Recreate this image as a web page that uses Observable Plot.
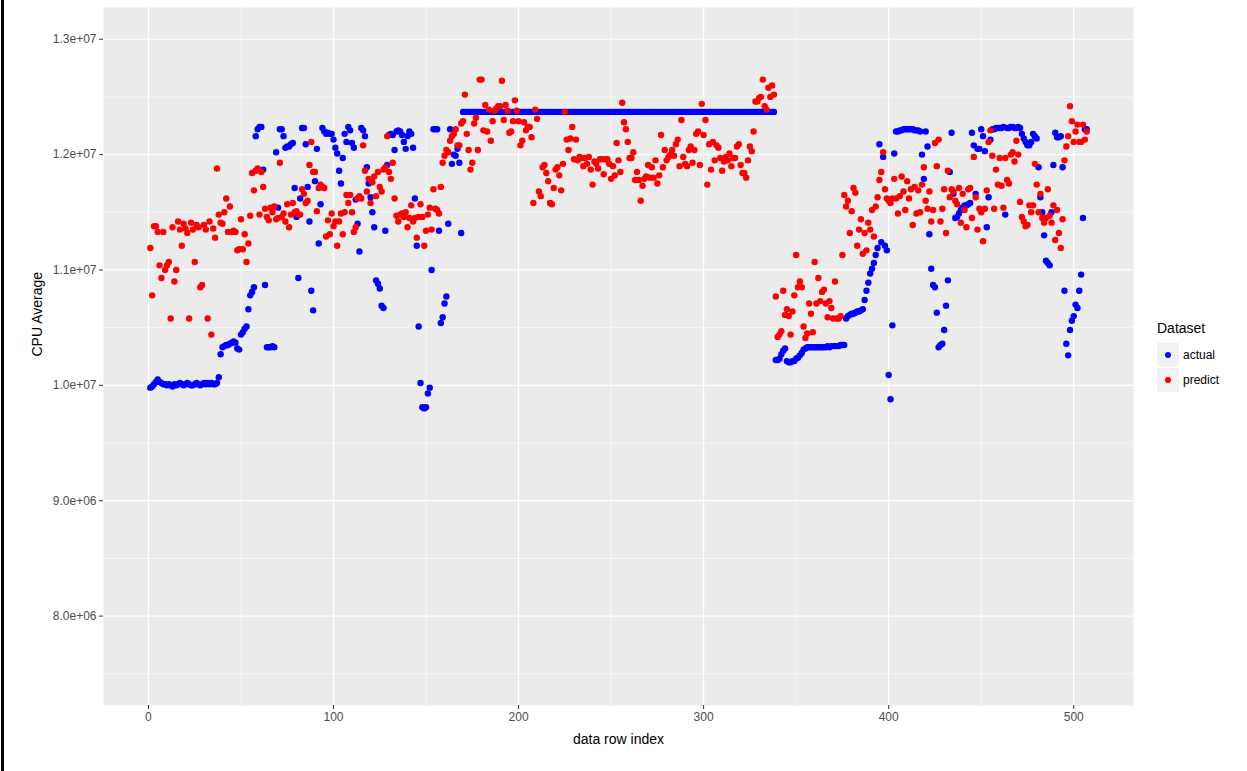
<!DOCTYPE html>
<html><head><meta charset="utf-8">
<script src="https://cdn.jsdelivr.net/npm/d3@7"></script>
<script src="https://cdn.jsdelivr.net/npm/@observablehq/plot@0.6"></script>
<style>
body{margin:0;background:#fff;font-family:"Liberation Sans",Arial,sans-serif;}
#wrap{position:relative;width:1247px;height:771px;overflow:hidden;}
#border{position:absolute;left:1px;top:0;width:3px;height:771px;background:#000;}
#legend{position:absolute;left:1157px;top:319px;color:#000;}
#legend .title{font-size:14px;height:23px;line-height:18px;}
#legend .row{display:flex;align-items:center;height:25px;}
#legend .key{width:22px;height:24px;background:#F2F2F2;position:relative;margin-right:4px;}
#legend .key span{position:absolute;left:8px;top:9px;width:6px;height:6px;border-radius:50%;}
#legend .lab{font-size:12px;}
</style>
</head><body>
<div id="wrap"><div id="chart"></div><div id="border"></div><div id="legend"></div></div>
<script>
// values in millions (CPU Average / 1e6), index = position + 1
const actual = [
9.98,9.99,10.01,10.03,10.05,10.03,10.02,10.01,10.01,10.00,
10.01,10.00,9.99,10.01,10.00,10.01,10.02,10.01,10.00,10.01,
10.02,10.01,10.00,10.00,10.01,10.02,10.01,10.00,10.01,10.02,
10.01,10.02,10.01,10.02,10.01,10.01,10.02,10.07,10.27,10.33,
10.34,10.35,10.35,10.36,10.37,10.38,10.37,10.32,10.31,10.44,
10.46,10.49,10.51,10.66,10.78,10.81,10.85,12.16,12.22,12.24,
12.24,11.87,10.87,10.33,10.33,10.33,10.34,10.33,12.02,11.54,
12.22,12.22,12.16,12.06,12.07,12.07,12.09,12.10,11.71,11.46,
10.93,11.62,12.23,12.23,12.09,11.72,11.42,10.82,10.65,11.77,
12.05,11.23,11.57,12.23,12.20,12.18,12.19,12.18,12.18,12.13,
12.06,12.01,11.86,11.75,11.97,12.18,12.11,12.24,12.21,12.10,
12.06,11.61,11.40,11.16,12.23,12.21,12.16,11.89,11.75,11.63,
11.50,11.37,10.91,10.88,10.84,10.69,10.67,11.34,11.91,12.17,
12.18,12.17,12.04,12.20,12.21,12.20,12.17,12.11,12.05,12.16,
12.20,12.18,12.06,11.62,11.21,10.51,10.02,9.81,9.80,9.81,
9.93,9.98,11.00,12.22,12.22,12.22,11.34,10.54,10.59,10.71,
10.77,11.40,12.22,11.92,12.00,11.99,12.05,11.93,11.32,
12.37,12.37,12.37,12.37,12.37,12.37,12.37,12.37,12.37,12.37,
12.37,12.37,12.37,12.37,12.37,12.37,12.37,12.37,12.37,12.37,
12.37,12.37,12.37,12.37,12.37,12.37,12.37,12.37,12.37,12.37,
12.37,12.37,12.37,12.37,12.37,12.37,12.37,12.37,12.37,12.37,
12.37,12.37,12.37,12.37,12.37,12.37,12.37,12.37,12.37,12.37,
12.37,12.37,12.37,12.37,12.37,12.37,12.37,12.37,12.37,12.37,
12.37,12.37,12.37,12.37,12.37,12.37,12.37,12.37,12.37,12.37,
12.37,12.37,12.37,12.37,12.37,12.37,12.37,12.37,12.37,12.37,
12.37,12.37,12.37,12.37,12.37,12.37,12.37,12.37,12.37,12.37,
12.37,12.37,12.37,12.37,12.37,12.37,12.37,12.37,12.37,12.37,
12.37,12.37,12.37,12.37,12.37,12.37,12.37,12.37,12.37,12.37,
12.37,12.37,12.37,12.37,12.37,12.37,12.37,12.37,12.37,12.37,
12.37,12.37,12.37,12.37,12.37,12.37,12.37,12.37,12.37,12.37,
12.37,12.37,12.37,12.37,12.37,12.37,12.37,12.37,12.37,12.37,
12.37,12.37,12.37,12.37,12.37,12.37,12.37,12.37,12.37,12.37,
12.37,12.37,12.37,12.37,12.37,12.37,12.37,12.37,12.37,12.37,
12.37,12.37,12.37,12.37,12.37,12.37,12.37,12.37,12.37,
10.22,10.22,10.23,10.27,10.30,10.32,10.21,10.20,10.20,10.21,
10.21,10.23,10.24,10.26,10.28,10.31,10.32,10.33,10.33,10.33,
10.33,10.33,10.33,10.33,10.33,10.33,10.33,10.33,10.34,10.33,
10.34,10.34,10.34,10.34,10.34,10.35,10.35,10.35,10.58,10.60,
10.61,10.62,10.62,10.63,10.64,10.64,10.65,10.66,10.74,10.82,
10.89,10.97,11.01,11.06,11.13,11.19,12.09,11.24,11.98,11.21,
11.17,10.09,9.88,10.52,12.01,12.20,12.20,12.21,12.21,12.22,
12.22,12.22,12.22,12.22,12.22,12.21,12.21,12.21,12.20,12.00,
11.79,12.20,12.07,11.31,11.01,10.87,10.85,10.63,10.33,10.35,
10.36,10.48,10.69,10.91,11.85,12.19,11.66,11.45,11.46,11.49,
11.52,11.54,11.56,11.56,11.57,11.58,12.19,12.08,11.66,12.05,
12.05,12.22,12.16,12.03,11.37,11.63,12.13,12.22,12.22,12.23,
12.23,12.23,12.23,12.24,11.48,12.23,12.23,12.24,12.24,12.23,
12.23,12.24,12.23,12.18,12.14,12.11,12.08,12.08,12.11,12.18,
12.16,12.14,11.89,11.63,11.50,11.30,11.08,11.06,11.04,11.50,
11.91,12.19,12.15,12.15,12.16,11.89,10.82,10.36,10.26,10.48,
10.56,10.60,10.70,10.67,10.82,10.96,11.45,12.22,12.22
];
const predict = [
11.19,10.78,11.38,11.38,11.33,11.04,10.93,11.33,11.00,11.04,
11.07,10.58,11.37,10.90,11.00,11.42,11.35,11.21,11.40,11.36,
11.32,10.58,11.41,11.35,11.07,11.39,11.37,10.85,10.87,11.39,
11.35,10.58,11.42,10.44,11.36,11.28,11.88,11.48,11.41,11.40,
11.50,11.62,11.33,11.55,11.33,11.34,11.33,11.17,11.18,11.44,
11.18,11.31,11.07,11.23,11.47,11.84,11.69,11.86,11.88,11.48,
11.85,11.72,11.53,11.46,11.43,11.54,11.50,11.55,11.44,11.45,
11.93,11.46,11.49,11.42,11.57,11.37,11.48,11.58,11.50,11.51,
11.48,11.48,11.70,11.66,11.58,11.60,11.91,12.11,11.85,11.85,
11.51,11.71,11.74,11.72,11.71,11.29,11.43,11.31,11.49,11.38,
11.42,11.21,11.42,11.49,11.31,11.50,11.65,11.58,11.65,11.50,
11.33,11.37,11.62,11.64,11.62,12.08,11.86,11.68,11.79,11.58,
11.76,11.81,11.64,11.85,11.72,11.68,11.87,11.89,12.16,11.85,
11.79,11.93,11.62,11.47,11.42,11.48,11.49,11.46,11.50,11.37,
11.45,11.56,11.42,11.45,11.28,11.46,11.57,11.46,11.21,11.34,
11.48,11.54,11.35,11.70,11.53,11.52,11.49,11.72,11.93,11.99,
12.04,12.02,12.12,12.16,12.18,12.22,12.08,12.08,12.27,12.29,
12.52,12.18,12.04,11.87,11.93,12.27,12.32,12.04,12.65,12.65,
12.21,12.43,12.20,12.39,12.12,12.29,12.38,12.40,12.42,12.42,
12.64,12.30,12.43,12.38,12.19,12.20,12.29,12.47,12.38,12.29,
12.08,12.12,12.28,12.21,12.24,12.24,12.15,
11.58,12.39,12.31,11.68,11.64,11.89,11.91,11.84,11.77,11.58,
11.57,11.71,11.87,11.89,11.82,11.69,11.92,12.37,12.13,12.04,
12.14,12.24,11.96,12.13,11.95,11.98,11.97,11.90,11.97,11.92,
11.98,11.87,11.74,11.94,11.92,11.88,11.96,11.96,11.83,11.96,
11.96,11.92,11.79,11.90,11.82,12.10,11.95,11.85,12.45,12.28,
12.22,12.11,11.97,11.97,12.02,11.78,11.85,11.78,11.60,11.73,
11.79,11.81,11.91,11.80,11.89,11.80,11.95,11.75,11.82,12.17,
11.89,12.04,11.95,11.98,12.00,12.04,11.99,12.09,12.13,11.90,
12.30,11.98,11.92,11.90,12.04,12.07,11.93,12.04,12.18,12.20,
11.91,12.44,12.17,12.30,11.74,12.09,11.87,12.11,11.95,12.08,
12.06,11.97,11.86,11.94,11.98,11.95,12.01,11.90,11.97,11.97,
12.07,12.09,11.91,11.84,11.84,11.80,11.95,12.07,12.03,12.20,
12.46,12.46,12.49,12.50,12.65,12.42,12.39,12.58,12.50,12.60,
12.52,
10.77,10.42,10.44,10.47,10.82,10.61,10.66,10.60,10.44,10.64,
10.78,11.13,10.85,10.90,10.85,10.51,10.41,10.45,10.71,10.62,
10.46,11.07,10.71,10.93,10.73,10.81,10.83,10.71,10.59,10.73,
10.67,10.58,10.90,10.58,10.58,10.60,11.13,11.65,11.55,11.60,
11.32,11.51,11.71,11.67,11.21,11.35,11.44,11.14,11.32,11.17,
11.41,11.35,11.52,11.29,11.55,11.63,11.78,11.85,12.02,11.70,
11.62,11.60,11.58,11.62,11.79,11.62,11.49,11.64,11.81,11.68,
11.52,11.77,11.62,11.70,11.39,11.72,11.49,11.69,11.50,11.74,
11.89,11.60,11.53,11.68,11.42,11.52,12.10,11.90,12.13,11.42,
11.53,11.70,11.32,11.86,11.63,11.70,11.68,11.60,11.57,11.71,
11.41,11.66,11.52,11.37,11.70,11.71,11.45,11.98,11.63,11.35,
11.53,11.50,11.25,11.53,11.69,12.11,12.21,11.99,11.53,11.87,
11.74,11.97,11.73,11.54,11.97,11.78,11.75,12.00,12.02,11.94,
12.12,12.00,11.59,11.46,11.42,11.38,11.39,11.56,11.50,11.56,
11.92,11.74,11.50,11.66,11.45,11.41,11.45,11.70,11.47,11.41,
11.56,11.26,11.52,11.32,11.19,11.44,11.95,12.07,12.16,12.42,
12.29,12.11,12.20,12.26,12.11,12.11,12.26,12.13,12.20
];
const seriesNames = ["actual", "predict"];
const seriesColors = ["#0000FF", "#FF0000"];
const xTicks = [0, 100, 200, 300, 400, 500];
const xMinor = [50, 150, 250, 350, 450];
const yTicks = [8, 9, 10, 11, 12, 13];
const yMinor = [7.5, 8.5, 9.5, 10.5, 11.5, 12.5];
const yTickLabels = ["8.0e+06", "9.0e+06", "1.0e+07", "1.1e+07", "1.2e+07", "1.3e+07"];
const xDomain = [-24.3, 532.3];
const yDomain = [7.225, 13.275];

const rowsA = actual.map((v, i) => ({x: i + 1, y: v}));
const rowsP = predict.map((v, i) => ({x: i + 1, y: v}));

const plot = Plot.plot({
  width: 1247, height: 771,
  marginLeft: 103, marginRight: 114, marginTop: 7, marginBottom: 66,
  style: {fontFamily: "'Liberation Sans', Arial, sans-serif", fontSize: "12px", background: "transparent"},
  x: {domain: xDomain},
  y: {domain: yDomain},
  marks: [
    Plot.frame({fill: "#EBEBEB", stroke: null}),
    Plot.ruleY(yMinor, {y: d => d, stroke: "#FFFFFF", strokeWidth: 0.6}),
    Plot.ruleX(xMinor, {x: d => d, stroke: "#FFFFFF", strokeWidth: 0.6}),
    Plot.ruleY(yTicks, {y: d => d, stroke: "#FFFFFF", strokeWidth: 1.2}),
    Plot.ruleX(xTicks, {x: d => d, stroke: "#FFFFFF", strokeWidth: 1.2}),
    Plot.dot(rowsA, {x: "x", y: "y", r: 3.2, fill: seriesColors[0], stroke: null}),
    Plot.dot(rowsP, {x: "x", y: "y", r: 3.2, fill: seriesColors[1], stroke: null}),
    Plot.axisX({ticks: xTicks, tickSize: 4, tickPadding: 3, label: null, stroke: "#333333", fill: "#4D4D4D", fontSize: 12}),
    Plot.axisY({ticks: yTicks, tickFormat: d => yTickLabels[yTicks.indexOf(d)], tickSize: 4, tickPadding: 3, label: null, stroke: "#333333", fill: "#4D4D4D", fontSize: 12}),
    Plot.text(["data row index"], {frameAnchor: "bottom", dy: 38, fontSize: 14, fill: "#000"}),
    Plot.text(["CPU Average"], {frameAnchor: "left", dx: -66, rotate: -90, fontSize: 14, fill: "#000"})
  ]
});
document.getElementById("chart").appendChild(plot);

const lg = document.getElementById("legend");
lg.innerHTML = '<div class="title">Dataset</div>' + seriesNames.map((n, i) =>
  `<div class="row"><div class="key"><span style="background:${seriesColors[i]}"></span></div><div class="lab">${n}</div></div>`).join("");
</script>
</body></html>
